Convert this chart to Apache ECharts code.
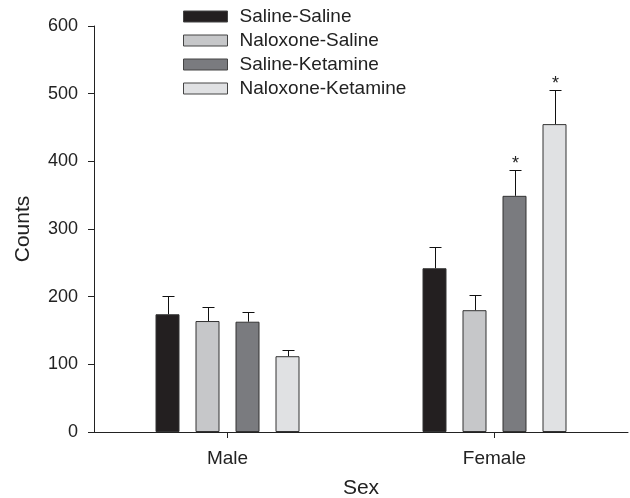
<!DOCTYPE html>
<html>
<head>
<meta charset="utf-8">
<script src="https://cdn.jsdelivr.net/npm/echarts@6/dist/echarts.min.js"></script>
<style>html,body{margin:0;padding:0;background:#fff}#c{width:630px;height:498px}</style>
</head>
<body>
<div id="c"></div>
<script>
var categories = ['Male', 'Female'];
var seriesNames = ['Saline-Saline', 'Naloxone-Saline', 'Saline-Ketamine', 'Naloxone-Ketamine'];
var salineSaline = [174, 242];
var naloxoneSaline = [164, 180];
var salineKetamine = [163, 349];
var naloxoneKetamine = [112, 455];
var salineSalineErr = [27, 32];
var naloxoneSalineErr = [21, 23];
var salineKetamineErr = [14, 38];
var naloxoneKetamineErr = [9, 50];
var salineSalineSig = [false, false];
var naloxoneSalineSig = [false, false];
var salineKetamineSig = [false, true];
var naloxoneKetamineSig = [false, true];
var yTicks = [0, 100, 200, 300, 400, 500, 600];

var values = [salineSaline, naloxoneSaline, salineKetamine, naloxoneKetamine];
var errors = [salineSalineErr, naloxoneSalineErr, salineKetamineErr, naloxoneKetamineErr];
var sigs = [salineSalineSig, naloxoneSalineSig, salineKetamineSig, naloxoneKetamineSig];
var colors = ['#231f20', '#c6c7c9', '#7a7b7f', '#e0e1e3'];
var FONT = '"Liberation Sans", Arial, Helvetica, sans-serif';
var BAR_W = 24, STEP = 40;

var series = [];
values.forEach(function (vals, i) {
  series.push({
    name: seriesNames[i],
    type: 'bar',
    data: vals,
    barWidth: BAR_W,
    barGap: (100 * (STEP - BAR_W) / BAR_W) + '%',
    itemStyle: { color: colors[i], borderColor: '#333', borderWidth: 1 },
    z: 2,
    silent: true
  });
});
values.forEach(function (vals, i) {
  var data = vals.map(function (v, k) { return [k, v, v + errors[i][k], sigs[i][k] ? 1 : 0]; });
  series.push({
    type: 'custom',
    name: seriesNames[i] + ' err',
    data: data,
    z: 3,
    silent: true,
    encode: { x: 0, y: [1, 2] },
    renderItem: function (params, api) {
      var off = (i - 1.5) * STEP;
      var base = api.coord([api.value(0), api.value(1)]);
      var top = api.coord([api.value(0), api.value(2)]);
      var x = Math.round(base[0] + off) + 0.5;
      var yb = base[1], yt = Math.round(top[1]) + 0.5;
      var children = [
        { type: 'line', shape: { x1: x, y1: yb, x2: x, y2: yt }, style: { stroke: '#111', lineWidth: 1 } },
        { type: 'line', shape: { x1: x - 6, y1: yt, x2: x + 6, y2: yt }, style: { stroke: '#111', lineWidth: 1 } }
      ];
      if (api.value(3)) {
        children.push({ type: 'text', x: x, y: yt + 3, style: { text: '*', fill: '#222', font: '18px ' + FONT, align: 'center', verticalAlign: 'bottom' } });
      }
      return { type: 'group', children: children };
    }
  });
});

var chart = echarts.init(document.getElementById('c'), null, { renderer: 'canvas' });
chart.setOption({
  animation: false,
  backgroundColor: '#fff',
  textStyle: { fontFamily: FONT },
  legend: {
    data: seriesNames,
    orient: 'vertical',
    left: 183,
    top: 7,
    padding: 0,
    itemWidth: 44,
    itemHeight: 11,
    itemGap: 5,
    icon: 'rect',
    selectedMode: false,
    textStyle: { fontFamily: FONT, fontSize: 19, color: '#222', lineHeight: 19, padding: [0, 0, 0, 7] },
    itemStyle: { borderColor: '#444', borderWidth: 1 }
  },
  grid: { left: 94, right: 2, top: 26, bottom: 66, containLabel: false, outerBoundsMode: 'none' },
  xAxis: {
    type: 'category',
    data: categories,
    name: 'Sex',
    nameLocation: 'middle',
    nameGap: 46,
    nameTextStyle: { fontFamily: FONT, fontSize: 21, color: '#222' },
    axisLine: { show: true, lineStyle: { color: '#222', width: 1 } },
    axisTick: { show: true, alignWithLabel: true, length: 6, lineStyle: { color: '#222' } },
    axisLabel: { fontFamily: FONT, fontSize: 19, color: '#222', margin: 17 },
    splitLine: { show: false }
  },
  yAxis: {
    type: 'value',
    min: yTicks[0],
    max: yTicks[yTicks.length - 1],
    interval: yTicks[1] - yTicks[0],
    name: 'Counts',
    nameLocation: 'middle',
    nameRotate: 90,
    nameGap: 60,
    nameTextStyle: { fontFamily: FONT, fontSize: 21, color: '#222' },
    axisLine: { show: true, lineStyle: { color: '#222', width: 1 } },
    axisTick: { show: true, length: 6, lineStyle: { color: '#222' } },
    axisLabel: { fontFamily: FONT, fontSize: 18, color: '#222', margin: 16 },
    splitLine: { show: false }
  },
  series: series
});
</script>
</body>
</html>
